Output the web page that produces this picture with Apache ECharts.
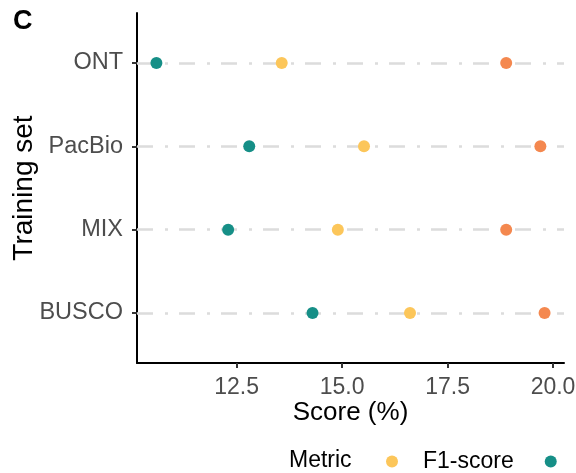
<!DOCTYPE html>
<html>
<head>
<meta charset="utf-8">
<script src="https://cdn.jsdelivr.net/npm/echarts@6/dist/echarts.min.js"></script>
<style>
  html, body { margin: 0; padding: 0; background: #fff; }
  #chart { width: 576px; height: 473px; }
</style>
</head>
<body>
<div id="chart"></div>
<script>
// training sets, top to bottom
const trainingSets = ['ONT', 'PacBio', 'MIX', 'BUSCO']
const metrics = ['F1-score', 'Precision', 'Recall']
const metricColors = ['#fcc65a', '#168f87', '#f4884f']

// scores (%) per training set
const f1Score = [13.57, 15.52, 14.9, 16.61]
const precision = [10.6, 12.8, 12.3, 14.3]
const recall = [18.89, 19.7, 18.89, 19.8]

const xTicks = [12.5, 15.0, 17.5, 20.0]
const xMin = 10.14
const xMax = 20.26

const font = 'Liberation Sans, Arial, sans-serif'
const chart = echarts.init(document.getElementById('chart'))

const toPoints = (vals) => vals.map((v, i) => [v, i + 1])
const yPos = trainingSets.map((s, i) => i + 1)

const option = {
  animation: false,
  textStyle: { fontFamily: font },
  title: {
    text: 'C',
    left: 8,
    top: 3,
    textStyle: { fontSize: 27, fontWeight: 'bold', color: '#000', fontFamily: font }
  },
  graphic: [
    {
      type: 'text',
      left: 289,
      top: 449,
      style: { text: 'Metric', fontSize: 23, fill: '#000', fontFamily: font }
    }
  ],
  legend: {
    data: metrics,
    left: 381,
    top: 445,
    width: 1200,
    icon: 'circle',
    itemWidth: 12,
    itemHeight: 12,
    itemGap: 31,
    textStyle: { fontSize: 23, color: '#000', fontFamily: font, padding: [0, 0, 0, 20] }
  },
  grid: {
    left: 137,
    right: 12,
    top: 13,
    bottom: 110,
    containLabel: false,
    outerBoundsMode: 'none'
  },
  xAxis: {
    type: 'value',
    min: xMin,
    max: xMax,
    name: 'Score (%)',
    nameLocation: 'middle',
    nameGap: 37,
    nameMoveOverlap: false,
    nameTextStyle: { fontSize: 26, color: '#000' },
    axisLine: { show: true, onZero: false, lineStyle: { color: '#000', width: 2 } },
    axisTick: { show: true, customValues: xTicks, length: 5, lineStyle: { color: '#333', width: 2 } },
    axisLabel: {
      customValues: xTicks,
      margin: 13,
      fontSize: 23,
      color: '#4d4d4d',
      formatter: (v) => v.toFixed(1)
    },
    splitLine: { show: false }
  },
  yAxis: {
    type: 'value',
    min: 0.4,
    max: 4.6,
    inverse: true,
    name: 'Training set',
    nameLocation: 'middle',
    nameGap: 99,
    nameMoveOverlap: false,
    nameTextStyle: { fontSize: 28, color: '#000' },
    axisLine: { show: true, onZero: false, lineStyle: { color: '#000', width: 2 } },
    axisTick: { show: true, customValues: yPos, length: 5, lineStyle: { color: '#333', width: 2 } },
    axisLabel: {
      customValues: yPos,
      margin: 14,
      fontSize: 23.5,
      color: '#4d4d4d',
      formatter: (v) => trainingSets[Math.round(v) - 1] || ''
    },
    splitLine: { show: false }
  },
  series: [
    {
      name: 'guides',
      type: 'line',
      data: [],
      zlevel: 0,
      z: 1,
      markLine: {
        silent: true,
        symbol: 'none',
        label: { show: false },
        lineStyle: { color: '#dcdcdc', width: 2.5, type: [16, 12, 3, 11] },
        data: yPos.map((y) => ({ yAxis: y }))
      }
    },
    {
      name: 'F1-score',
      type: 'scatter',
      symbolSize: 12,
      zlevel: 1,
      itemStyle: { color: metricColors[0], opacity: 1 },
      data: toPoints(f1Score)
    },
    {
      name: 'Precision',
      type: 'scatter',
      symbolSize: 12,
      zlevel: 1,
      itemStyle: { color: metricColors[1], opacity: 1 },
      data: toPoints(precision)
    },
    {
      name: 'Recall',
      type: 'scatter',
      symbolSize: 12,
      zlevel: 1,
      itemStyle: { color: metricColors[2], opacity: 1 },
      data: toPoints(recall)
    }
  ]
}

chart.setOption(option)
</script>
</body>
</html>
